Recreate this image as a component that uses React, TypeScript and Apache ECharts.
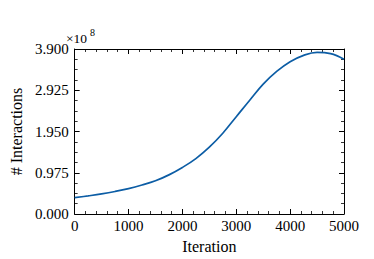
import React, { useEffect, useRef } from "react";
import * as echarts from "echarts";

const iterations = [0, 250, 500, 750, 1000, 1250, 1500, 1750, 2000, 2250, 2500, 2750, 3000, 3250, 3500, 3750, 4000, 4250, 4500, 4750, 5000];
// values in units of 1e8
const interactions = [0.385, 0.428, 0.475, 0.532, 0.6, 0.685, 0.785, 0.925, 1.1, 1.31, 1.58, 1.91, 2.3, 2.69, 3.07, 3.37, 3.6, 3.75, 3.82, 3.79, 3.66];
const xTicks = [0, 1000, 2000, 3000, 4000, 5000];
const yTicks = [0, 0.975, 1.95, 2.925, 3.9];

const FONT = "Liberation Serif";

export default function App() {
  const ref = useRef<HTMLDivElement>(null);
  useEffect(() => {
    if (!ref.current) return;
    const chart = echarts.init(ref.current, undefined, { renderer: "svg" });
    const axisLine = { show: true, onZero: false, lineStyle: { color: "#000", width: 1 } };
    const tick = { show: true, inside: true, length: 5, lineStyle: { color: "#000", width: 1 } };
    const xBase = {
      type: "value" as const,
      min: xTicks[0],
      max: xTicks[xTicks.length - 1],
      interval: xTicks[1] - xTicks[0],
      axisLine,
      axisTick: tick,
      minorTick: { show: true, splitNumber: 5, length: 3, lineStyle: { color: "#000", width: 0.8 } },
      splitLine: { show: false },
    };
    const yBase = {
      type: "value" as const,
      min: yTicks[0],
      max: yTicks[yTicks.length - 1],
      interval: yTicks[1] - yTicks[0],
      axisLine,
      axisTick: tick,
      minorTick: { show: true, splitNumber: 4, length: 3, lineStyle: { color: "#000", width: 0.8 } },
      splitLine: { show: false },
    };
    chart.setOption({
      animation: false,
      backgroundColor: "#fff",
      grid: { left: 66, right: 30, top: 49, bottom: 45, containLabel: false },
      xAxis: [
        {
          ...xBase,
          position: "bottom",
          name: "Iteration",
          nameLocation: "middle",
          nameGap: 24,
          nameTextStyle: { fontFamily: FONT, fontSize: 16, color: "#000" },
          axisLabel: { show: true, margin: 4, fontFamily: FONT, fontSize: 15, color: "#000", formatter: (v: number) => String(v) },
        },
        { ...xBase, position: "top", axisLabel: { show: false } },
      ],
      yAxis: [
        {
          ...yBase,
          position: "left",
          name: "# Interactions",
          nameLocation: "middle",
          nameGap: 50,
          nameRotate: 90,
          nameTextStyle: { fontFamily: FONT, fontSize: 16, color: "#000" },
          axisLabel: { show: true, margin: 6, fontFamily: FONT, fontSize: 15, color: "#000", formatter: (v: number) => v.toFixed(3) },
        },
        { ...yBase, position: "right", axisLabel: { show: false } },
      ],
      graphic: [
        { type: "text", x: 66, y: 31, style: { text: "×10", fontFamily: FONT, fontSize: 13.5, fill: "#000" } },
        { type: "text", x: 90, y: 27.5, style: { text: "8", fontFamily: FONT, fontSize: 10, fill: "#000" } },
      ],
      series: [
        {
          type: "line",
          data: iterations.map((x, i) => [x, interactions[i]]),
          smooth: 0.4,
          symbol: "none",
          lineStyle: { color: "#0C5DA5", width: 1.7 },
          xAxisIndex: 0,
          yAxisIndex: 0,
        },
      ],
    });
    return () => chart.dispose();
  }, []);
  return <div ref={ref} style={{ position: "fixed", left: 0, top: 0, width: 374, height: 259 }} />;
}
